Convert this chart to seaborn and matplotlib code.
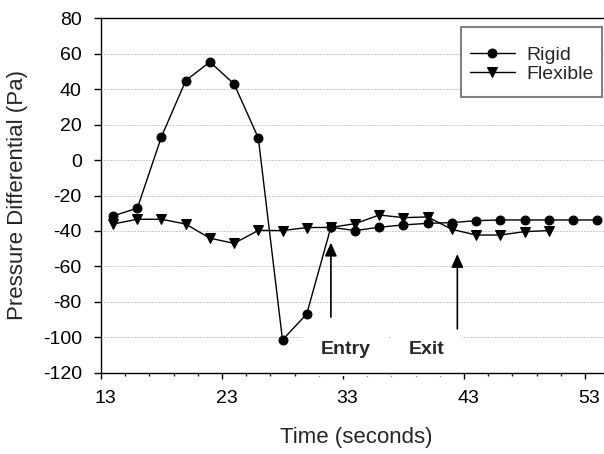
import matplotlib
matplotlib.use("Agg")
import matplotlib.pyplot as plt
import seaborn as sns
import pandas as pd
from matplotlib.ticker import MultipleLocator, FixedLocator
from matplotlib.transforms import ScaledTranslation
from matplotlib.patches import Rectangle

# Pressure differential across the opening, sampled every 2 s
time_rigid = [14, 16, 18, 20, 22, 24, 26, 28, 30, 32, 34, 36, 38, 40, 42, 44, 46, 48, 50, 52, 54]
pressure_rigid = [-31.5, -27.2, 13.2, 44.8, 55.4, 42.9, 12.5, -101.5, -86.9, -37.9, -39.8,
                  -37.9, -36.6, -35.7, -35.3, -34.2, -33.8, -33.8, -33.8, -33.8, -33.8]

time_flexible = [14, 16, 18, 20, 22, 24, 26, 28, 30, 32, 34, 36, 38, 40, 42, 44, 46, 48, 50]
pressure_flexible = [-36.1, -33.4, -33.4, -36.1, -44.1, -47.0, -39.7, -39.8, -38.1, -38.0,
                     -35.9, -31.0, -32.5, -32.1, -39.1, -42.3, -42.3, -40.4, -39.8]

# Event markers (time, arrow base, arrow tip) and their captions
event_names = ["Entry", "Exit"]
event_times = [32.0, 42.45]
event_base = [-88.6, -95.3]
event_tip = [-46.6, -53.0]
caption_x = [33.2, 39.9]
caption_y = -107

x_major = [13, 23, 33, 43, 53]
y_ticks = [-120, -100, -80, -60, -40, -20, 0, 20, 40, 60, 80]

df_rigid = pd.DataFrame({"Time (seconds)": time_rigid, "Pressure": pressure_rigid})
df_flex = pd.DataFrame({"Time (seconds)": time_flexible, "Pressure": pressure_flexible})

sns.set_theme(style="ticks")
plt.rcParams["font.family"] = ["Liberation Sans", "DejaVu Sans"]
plt.rcParams["axes.unicode_minus"] = False

W, H = 604, 454
fig = plt.figure(figsize=(W / 100, H / 100), dpi=100)
px_per_s = 12.1
ax = fig.add_axes([101 / W, 1 - 372.7 / H, 50 * px_per_s / W, (372.7 - 18.3) / H])

sns.lineplot(data=df_rigid, x="Time (seconds)", y="Pressure", ax=ax, color="black",
             lw=1, marker="o", markersize=6.4, markeredgecolor="black",
             markerfacecolor="black", label="Rigid", zorder=4)
sns.lineplot(data=df_flex, x="Time (seconds)", y="Pressure", ax=ax, color="black",
             lw=1, marker="v", markersize=7.2, markeredgecolor="black",
             markerfacecolor="black", label="Flexible", zorder=3)

ax.set_xlim(13, 63)
ax.set_ylim(-120, 80)
ax.xaxis.set_major_locator(FixedLocator(x_major))
ax.xaxis.set_minor_locator(MultipleLocator(2, offset=1))
ax.set_yticks(y_ticks)

ax.set_axisbelow(True)
ax.yaxis.grid(True, linestyle=(0, (1, 2)), linewidth=0.72, color="#9a9a9a")
ax.xaxis.grid(False)

for side in ["top", "left", "bottom"]:
    ax.spines[side].set_color("black")
    ax.spines[side].set_linewidth(1.0)
ax.spines["right"].set_visible(False)

ax.tick_params(axis="y", which="major", length=5, width=1, direction="out",
               pad=8.8, labelsize=14, colors="black")
ax.tick_params(axis="x", which="major", length=4, width=1, direction="out",
               pad=8.8, labelsize=14, colors="black")
ax.tick_params(axis="x", which="minor", length=2.4, width=1, direction="out")

# x tick labels sit slightly right of their ticks
shift = ScaledTranslation(4.5 / 100, 0, fig.dpi_scale_trans)
for lbl in ax.get_xticklabels():
    lbl.set_transform(lbl.get_transform() + shift)

ax.set_xlabel("Time (seconds)", fontsize=16)
ax.set_ylabel("Pressure Differential (Pa)", fontsize=16)
ax.xaxis.label.set_va("center")
ax.yaxis.label.set_va("center")
ax.xaxis.set_label_coords((355.8 - 101) / (50 * px_per_s), (372.7 - 437) / (372.7 - 18.3))
ax.yaxis.set_label_coords((17 - 101) / (50 * px_per_s), 0.5)

# event arrows and captions
for name, t, y0, y1, cx in zip(event_names, event_times, event_base, event_tip, caption_x):
    ax.annotate("", xy=(t, y1), xytext=(t, y0),
                arrowprops=dict(arrowstyle="-|>,head_length=0.8,head_width=0.36",
                                mutation_scale=10, color="black", lw=1.2,
                                shrinkA=0, shrinkB=0), zorder=5)
    ax.text(cx, caption_y, name, fontsize=14, fontweight="bold", ha="center",
            va="center", zorder=1,
            bbox=dict(boxstyle="square,pad=0.9", facecolor="white", edgecolor="none"))

# legend frame and entries
frame = Rectangle((460.7 / W, 1 - 97 / H), (602 - 460.7) / W, (97 - 26.7) / H,
                  transform=fig.transFigure, facecolor="white", edgecolor="#808080",
                  linewidth=1.5, clip_on=False, zorder=4.9)
ax.add_artist(frame)
leg = ax.legend(loc="upper left", bbox_to_anchor=(470.4 / W, 1 - 46 / H),
                bbox_transform=fig.transFigure, borderaxespad=0, frameon=False,
                fontsize=14, handlelength=2.27, handletextpad=0.6, borderpad=0,
                labelspacing=0.1)
leg.set_zorder(5)

fig.savefig("out.png", dpi=100)
